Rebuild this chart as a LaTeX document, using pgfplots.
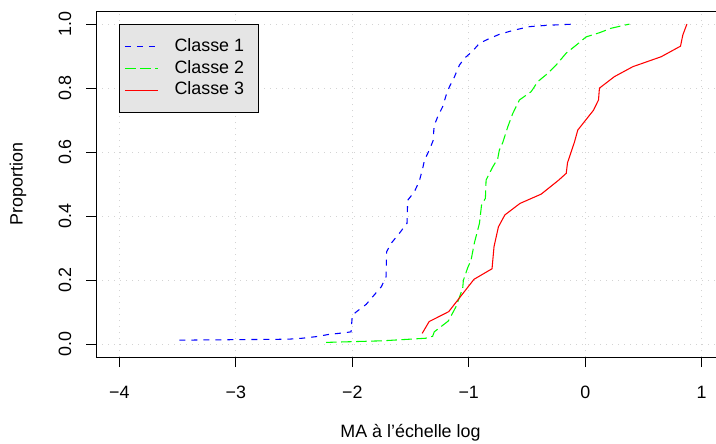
\documentclass[border=0pt]{standalone}
\usepackage{fontspec}
\setmainfont{Liberation Sans}
\usepackage{pgfplots}
\pgfplotsset{compat=1.18}
\definecolor{legfill}{RGB}{229,229,229}
\definecolor{gridcol}{RGB}{211,211,211}
\newcommand{\fs}{\fontsize{13.4}{16}\selectfont}
\begin{document}
\begin{tikzpicture}[font=\fs]
\useasboundingbox (0,0) rectangle (537pt,332.25pt);
\begin{scope}[overlay]
\begin{axis}[
  at={(72pt,64.4pt)}, anchor=south west,
  scale only axis, width=471.75pt, height=259.4pt,
  xmin=-4.2, xmax=1.2, ymin=-0.04, ymax=1.04,
  xtick={-4,-3,-2,-1,0,1},
  xticklabels={−4,−3,−2,−1,0,1},
  ytick={0,0.2,0.4,0.6,0.8,1},
  yticklabels={0.0,0.2,0.4,0.6,0.8,1.0},
  tick pos=left, tick align=outside, major tick length=7.5pt,
  tick style={black, line width=0.75pt},
  axis line style={line width=0.75pt},
  grid=major,
  major grid style={gridcol, line width=0.75pt, dash pattern=on 0.9pt off 3.6pt},
  xticklabel style={font=\fs, anchor=center, yshift=-18.75pt},
  yticklabel style={font=\fs, anchor=center, xshift=-15.75pt, rotate=90},
  every axis x label/.style={at={(axis description cs:0.5,0)}, anchor=center, yshift=-57pt, font=\fs},
  every axis y label/.style={at={(axis description cs:0,0.5)}, xshift=-58.5pt, rotate=90, anchor=center, font=\fs},
  xlabel={MA à l’échelle log},
  ylabel={Proportion},
  legend image code/.code={\draw[#1] (0pt,0pt) -- (24.75pt,0pt);},
  legend cell align=left,
  legend style={at={(axis cs:-4,1)}, anchor=north west, draw=black, fill=legfill,
    line width=0.75pt, font=\fs, inner xsep=3.5pt, inner ysep=10.5pt,
    row sep=3.9pt, column sep=12pt,
    nodes={inner sep=0pt, text height=9.6pt, text depth=2.8pt}},
]
\addplot[blue, line width=0.8pt, dash pattern=on 4.5pt off 4.5pt] coordinates {
(-3.485,0.013) (-2.55,0.016) (-2.43,0.019) (-2.31,0.024) (-2.20,0.031)
(-2.07,0.036) (-2.01,0.039) (-2.00,0.09) (-1.97,0.10) (-1.88,0.125)
(-1.80,0.159) (-1.75,0.18) (-1.71,0.211) (-1.705,0.289) (-1.667,0.315)
(-1.595,0.347) (-1.53,0.378) (-1.524,0.45) (-1.467,0.476) (-1.424,0.510)
(-1.395,0.55) (-1.38,0.575) (-1.338,0.607) (-1.304,0.638) (-1.30,0.669)
(-1.295,0.685) (-1.266,0.711) (-1.224,0.742) (-1.194,0.778) (-1.166,0.804)
(-1.123,0.835) (-1.08,0.872) (-1.037,0.893) (-0.966,0.916) (-0.908,0.94)
(-0.822,0.955) (-0.737,0.968) (-0.622,0.98) (-0.479,0.992) (-0.335,0.996)
(-0.09,1.0)};
\addlegendentry{Classe 1\hspace*{7.5pt}}
\addplot[green, line width=0.8pt, dash pattern=on 7.9pt off 3.4pt] coordinates {
(-2.225,0.006) (-1.74,0.011) (-1.37,0.019) (-1.31,0.025) (-1.296,0.039)
(-1.175,0.073) (-1.11,0.117) (-1.052,0.175) (-1.046,0.2) (-1.008,0.24)
(-0.98,0.263) (-0.952,0.316) (-0.908,0.378) (-0.89,0.435) (-0.857,0.456)
(-0.851,0.513) (-0.822,0.534) (-0.794,0.554) (-0.751,0.58) (-0.737,0.607)
(-0.708,0.63) (-0.665,0.679) (-0.622,0.721) (-0.565,0.763) (-0.464,0.789)
(-0.408,0.82) (-0.322,0.846) (-0.25,0.872) (-0.164,0.909) (-0.078,0.934)
(0.008,0.96) (0.122,0.973) (0.223,0.987) (0.38,1.0)};
\addlegendentry{Classe 2\hspace*{7.5pt}}
\addplot[red, line width=0.8pt] coordinates {
(-1.40,0.034) (-1.340,0.071) (-1.172,0.102) (-0.955,0.203) (-0.80,0.236)
(-0.783,0.305) (-0.745,0.367) (-0.69,0.404) (-0.56,0.44) (-0.378,0.469)
(-0.227,0.513) (-0.163,0.534) (-0.152,0.567) (-0.092,0.632) (-0.064,0.669)
(0.071,0.731) (0.114,0.763) (0.122,0.80) (0.251,0.836) (0.409,0.867)
(0.652,0.898) (0.818,0.931) (0.838,0.966) (0.873,1.0)};
\addlegendentry{Classe 3\hspace*{7.5pt}}
\end{axis}
\end{scope}
\end{tikzpicture}
\end{document}
